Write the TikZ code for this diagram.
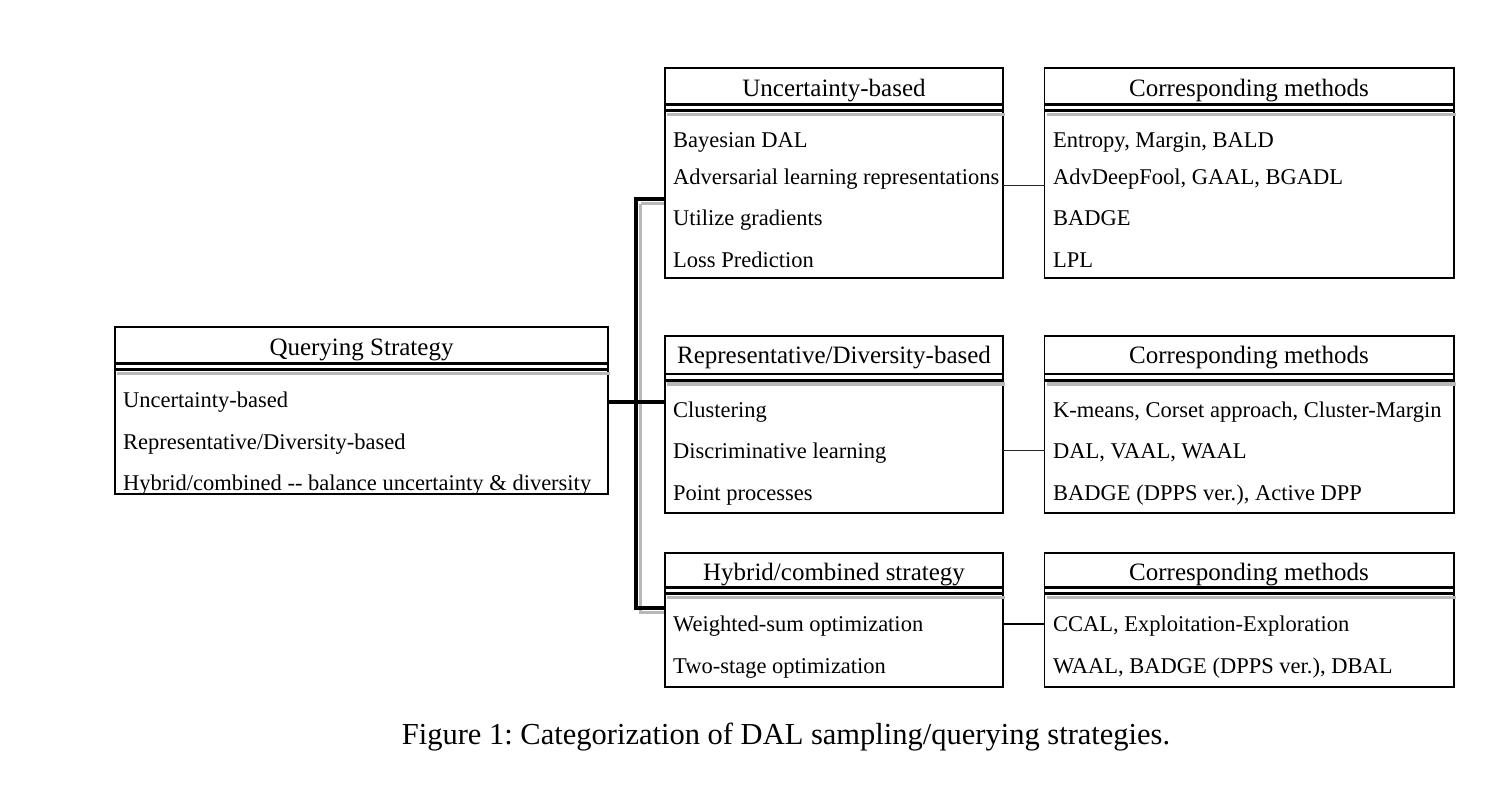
\documentclass[tikz,border=0pt]{standalone}
\usepackage{fontspec}
\setmainfont{Liberation Serif}
\frenchspacing
\begin{document}
\begin{tikzpicture}[x=1bp,y=-1bp,
  frame/.style={draw, fill=white, line width=1.8bp, anchor=north west, inner sep=0pt, outer sep=0pt},
  head/.style={font=\fontsize{25bp}{30bp}\selectfont, anchor=base, inner sep=0pt},
  item/.style={font=\fontsize{22.5bp}{27bp}\selectfont, anchor=base west, inner sep=0pt},
  dbl/.style={line width=2.6bp},
  shade/.style={line width=3.2bp, black!28},
  bus/.style={line width=3.4bp},
  thinlink/.style={line width=1.4bp, black!85},
  thicklink/.style={line width=2.4bp},
  captionstyle/.style={font=\fontsize{30.5bp}{36bp}\selectfont, anchor=base, inner sep=0pt}]
\useasboundingbox (0,0) rectangle (1511,793);
\newcommand\hdr[2]{%
  \draw[shade] ([xshift=2bp,yshift=-#2bp-10bp]#1.north west) -- ([xshift=2bp,yshift=-#2bp-10bp]#1.north east);
  \draw[dbl] ([yshift=-#2bp]#1.north west) -- ([yshift=-#2bp]#1.north east);
  \draw[dbl] ([yshift=-#2bp-6.2bp]#1.north west) -- ([yshift=-#2bp-6.2bp]#1.north east);}

% junction coordinates of the bus
\coordinate (jt) at (636,199);
\coordinate (jb) at (636,608);
\coordinate (jm) at (636,402);

% bus shadow
\draw[shade] (640.5,203.5) -- (640.5,612.5) -- (665,612.5);
\draw[shade] (640.5,203.5) -- (665,203.5);

% boxes
\node[frame, minimum width=493.3bp, minimum height=167.5bp] (qs) at (115,326.7) {};
\node[frame, minimum width=338.5bp, minimum height=210bp] (ub) at (664.8,68.2) {};
\node[frame, minimum width=409.5bp, minimum height=210bp] (cm1) at (1044.5,68.2) {};
\node[frame, minimum width=338.5bp, minimum height=177bp] (rd) at (664.8,336) {};
\node[frame, minimum width=409.5bp, minimum height=177bp] (cm2) at (1044.5,336) {};
\node[frame, minimum width=338.5bp, minimum height=134bp] (hy) at (664.8,552.7) {};
\node[frame, minimum width=409.5bp, minimum height=134bp] (cm3) at (1044.5,552.7) {};

% connectors
\draw[bus] (qs.east |- jm) -- (jm) -- (rd.west |- jm);
\draw[bus] (ub.west |- jt) -- (jt) -- (jb) -- (hy.west |- jb);
\draw[thinlink] (ub.east |- 0,185.7) -- (cm1.west |- 0,185.7);
\draw[thinlink] (rd.east |- 0,450.7) -- (cm2.west |- 0,450.7);
\draw[thicklink] (hy.east |- 0,624) -- (cm3.west |- 0,624);

% header separators
\hdr{qs}{36.6}
\hdr{ub}{36.3}
\hdr{cm1}{36.3}
\hdr{rd}{38}
\hdr{cm2}{38}
\hdr{hy}{34.5}
\hdr{cm3}{34.5}

% headers
\node[head] (qsh) at (361.5,355) {Querying Strategy};
\node[head] (ubh) at (834,96) {Uncertainty-based};
\node[head] (cm1h) at (1249,96) {Corresponding methods};
\node[head] (rdh) at (834,363.5) {Representative/Diversity-based};
\node[head] (cm2h) at (1249,363.5) {Corresponding methods};
\node[head] (hyh) at (834,580) {Hybrid/combined strategy};
\node[head] (cm3h) at (1249,580) {Corresponding methods};

% querying items
\node[item] (q1) at (123,407) {Uncertainty-based};
\node[item] (q2) at (123,449) {Representative/Diversity-based};
\node[item] (q3) at (123,490) {Hybrid/combined -\kern0pt- balance uncertainty \& diversity};

% uncertainty items
\node[item] (u1) at (673,147.3) {Bayesian DAL};
\node[item] (u2) at (673,184) {Adversarial learning representations};
\node[item] (u3) at (673,225.7) {Utilize gradients};
\node[item] (u4) at (673,267.3) {Loss Prediction};
\node[item] (c11) at (1053,147.3) {Entropy, Margin, BALD};
\node[item] (c12) at (1053,184) {AdvDeepFool, GAAL, BGADL};
\node[item] (c13) at (1053,225.7) {BADGE};
\node[item] (c14) at (1053,267.3) {LPL};

% representative items
\node[item] (r1) at (673,417.3) {Clustering};
\node[item] (r2) at (673,458.3) {Discriminative learning};
\node[item] (r3) at (673,500) {Point processes};
\node[item] (c21) at (1053,417.3) {K-means, Corset approach, Cluster-Margin};
\node[item] (c22) at (1053,458.3) {DAL, VAAL, WAAL};
\node[item] (c23) at (1053,500) {BADGE (DPPS ver.), Active DPP};

% hybrid items
\node[item] (h1) at (673,631.7) {Weighted-sum optimization};
\node[item] (h2) at (673,673.3) {Two-stage optimization};
\node[item] (c31) at (1053,631.7) {CCAL, Exploitation-Exploration};
\node[item] (c32) at (1053,673.3) {WAAL, BADGE (DPPS ver.), DBAL};

% caption
\node[captionstyle] (cap) at (786,744) {Figure 1: Categorization of DAL sampling/querying strategies.};
\end{tikzpicture}
\end{document}
